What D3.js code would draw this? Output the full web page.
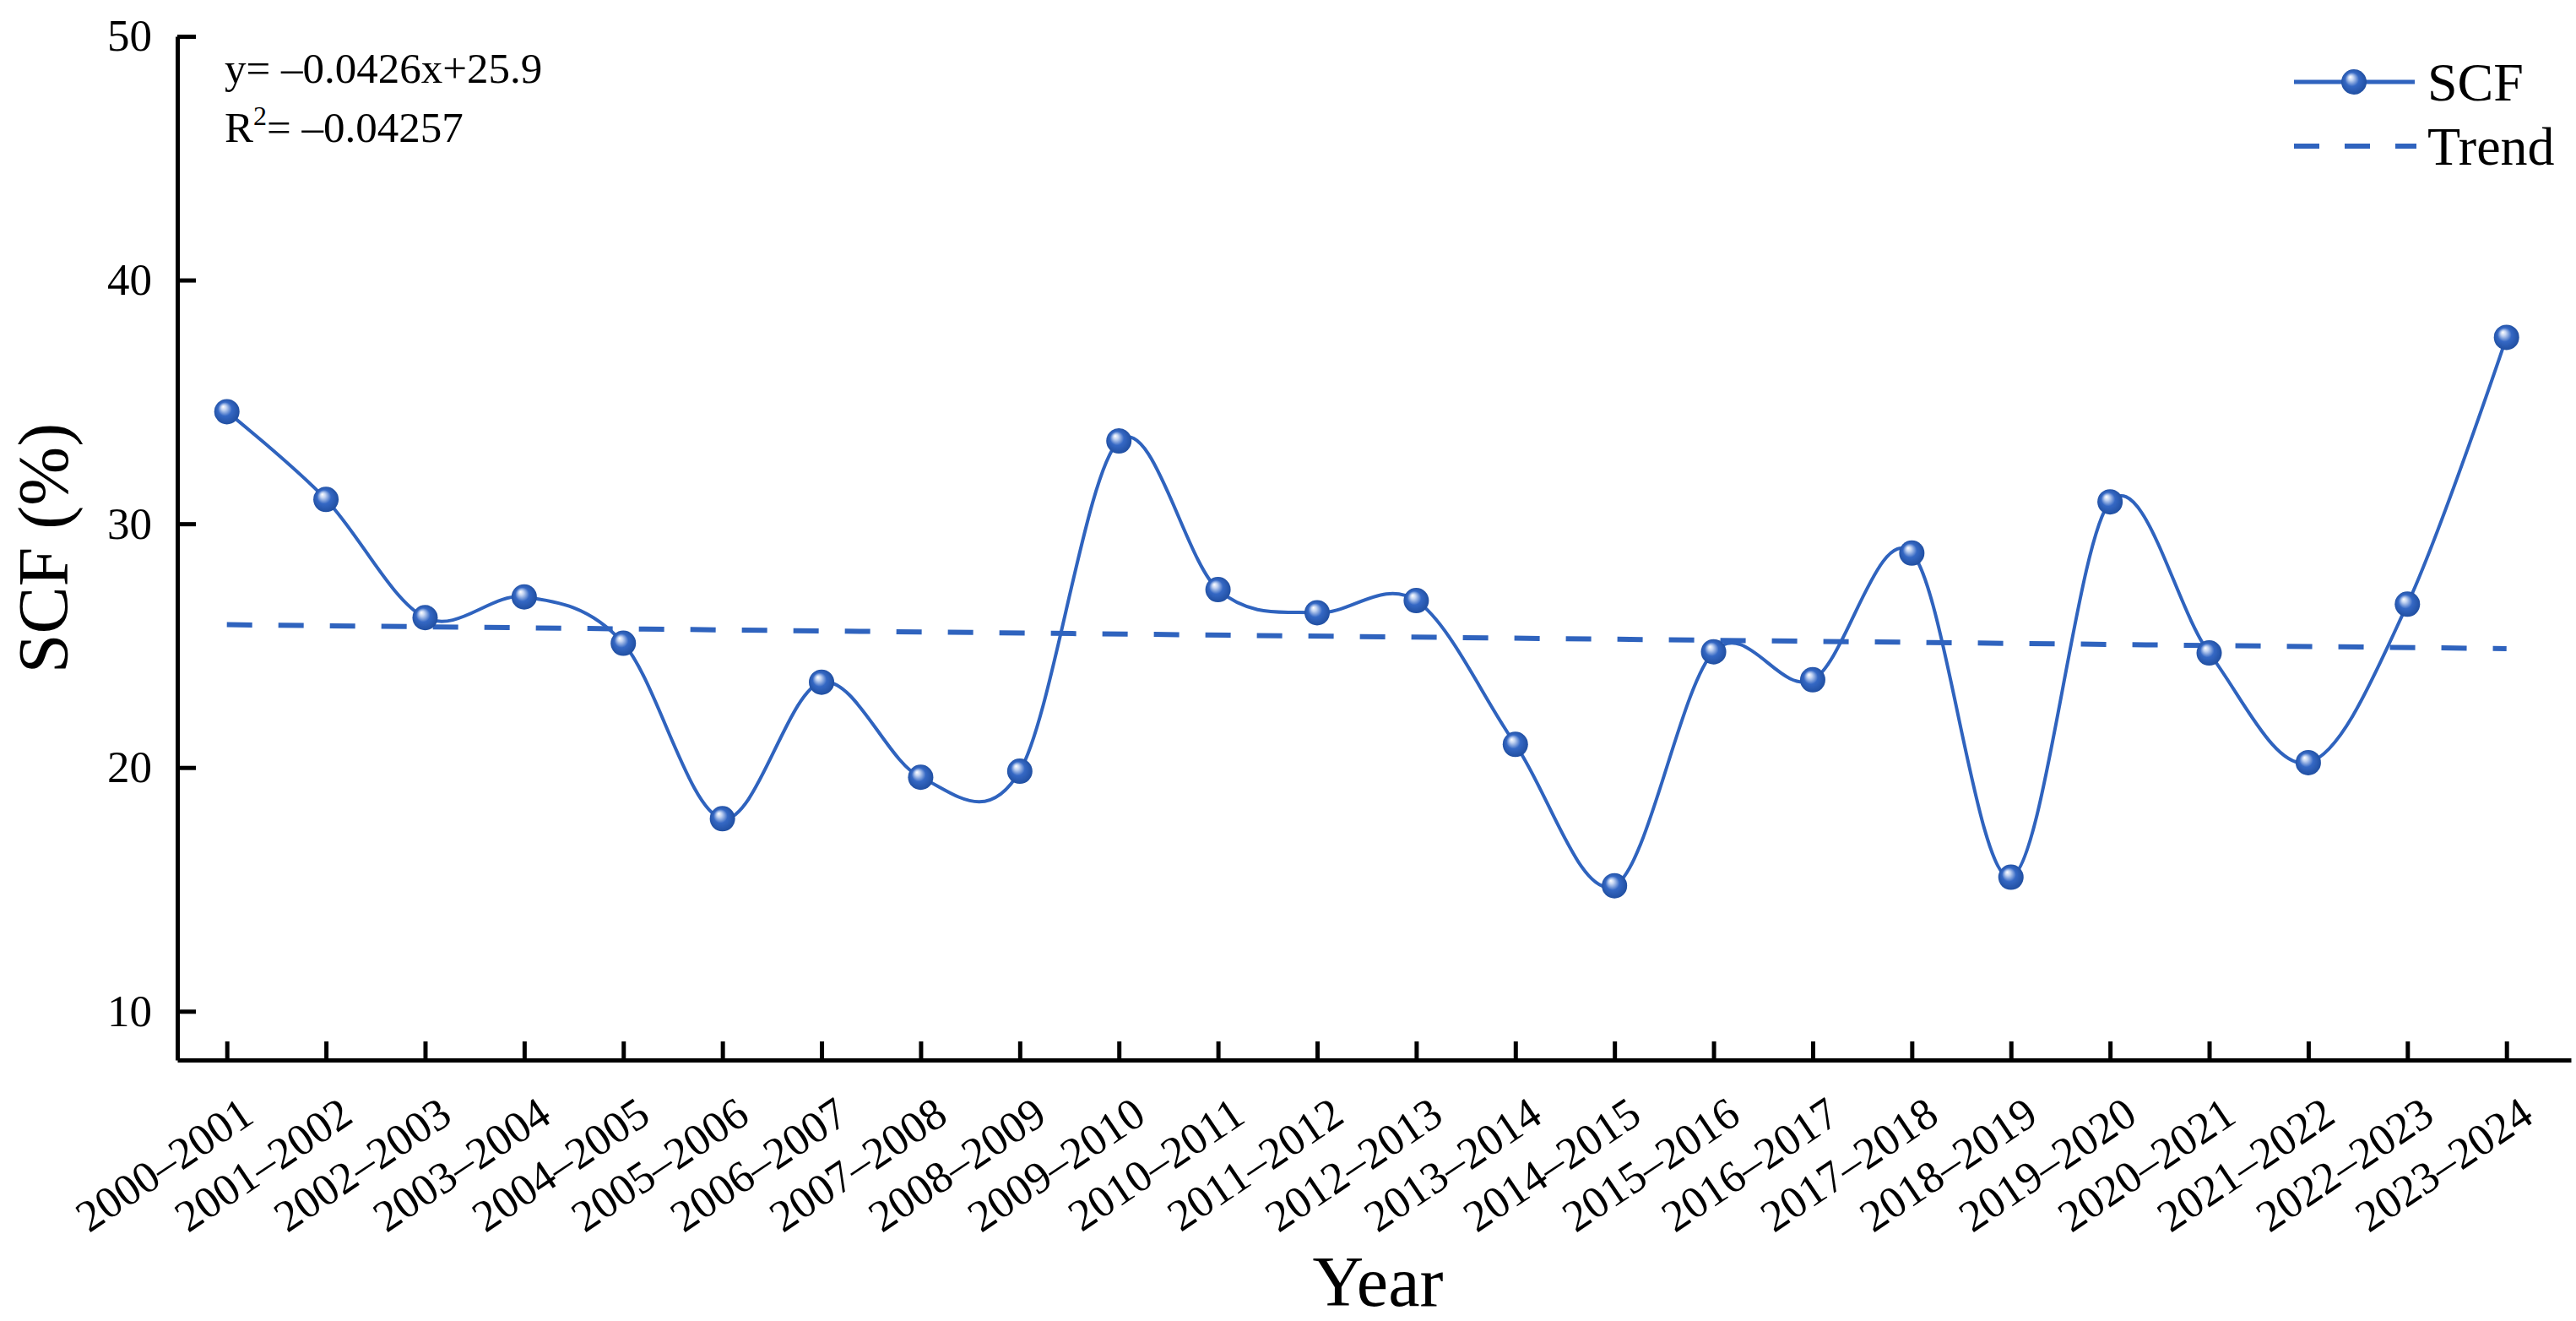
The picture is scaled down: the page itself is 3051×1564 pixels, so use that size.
<!DOCTYPE html>
<html>
<head>
<meta charset="utf-8">
<script src="https://d3js.org/d3.v7.min.js"></script>
<style>
	body { margin: 0; background: #fff; }
	text { font-family: "Liberation Serif", "Times New Roman", serif; fill: #000; }
</style>
</head>
<body>
<div id="chart-area"></div>
<script>
// Data
var seasons = ["2000–2001", "2001–2002", "2002–2003", "2003–2004", "2004–2005", "2005–2006",
	"2006–2007", "2007–2008", "2008–2009", "2009–2010", "2010–2011", "2011–2012",
	"2012–2013", "2013–2014", "2014–2015", "2015–2016", "2016–2017", "2017–2018",
	"2018–2019", "2019–2020", "2020–2021", "2021–2022", "2022–2023", "2023–2024"];
var scf = [34.6, 31.0, 26.15, 27.0, 25.1, 17.9, 23.5, 19.6, 19.85, 33.4, 27.3, 26.35,
	26.85, 20.95, 15.15, 24.75, 23.6, 28.8, 15.5, 30.9, 24.7, 20.2, 26.7, 37.65];
// trend line end points (first and last season)
var trendIdx = [0, 23];
var trendValues = [25.86, 24.88];
var yTicks = [10, 20, 30, 40, 50];
var equationText = "y= –0.0426x+25.9";
var r2Text = "–0.04257";

var W = 3051, H = 1564;
var blue = "#2f63be";

var svg = d3.select("#chart-area").append("svg")
	.attr("width", W)
	.attr("height", H);

svg.append("rect").attr("width", W).attr("height", H).attr("fill", "#fff");

// sphere marker gradient
var defs = svg.append("defs");
var grad = defs.append("radialGradient")
	.attr("id", "ball")
	.attr("cx", "50%").attr("cy", "50%").attr("r", "55%")
	.attr("fx", "35%").attr("fy", "30%");
grad.append("stop").attr("offset", "0%").attr("stop-color", "#ffffff");
grad.append("stop").attr("offset", "18%").attr("stop-color", "#c5d5f2");
grad.append("stop").attr("offset", "50%").attr("stop-color", "#3568c4");
grad.append("stop").attr("offset", "100%").attr("stop-color", "#1d4b9c");

// Scales
var x = d3.scaleLinear()
	.domain([-0.5, 23.65])
	.range([210, 3045]);

var y = d3.scaleLinear()
	.domain([8, 50])
	.range([1255, 43]);

// Axes
var xAxisCall = d3.axisBottom(x)
	.tickValues(d3.range(seasons.length))
	.tickFormat((d) => seasons[d])
	.tickSizeInner(-22)
	.tickSizeOuter(0);

var yAxisCall = d3.axisLeft(y)
	.tickValues(yTicks)
	.tickSizeInner(-22)
	.tickSizeOuter(0)
	.tickPadding(30);

var xAxisGroup = svg.append("g")
	.attr("transform", "translate(0," + y(8) + ")")
	.call(xAxisCall);

var yAxisGroup = svg.append("g")
	.attr("transform", "translate(" + x(-0.5) + ",0)")
	.call(yAxisCall);

[xAxisGroup, yAxisGroup].forEach((g) => {
	g.select(".domain").attr("stroke", "#000").attr("stroke-width", 5);
	g.selectAll(".tick line").attr("stroke", "#000").attr("stroke-width", 5);
	g.selectAll("text").style("font-family", "Liberation Serif").attr("fill", "#000");
});

yAxisGroup.selectAll("text").style("font-size", "53px");

xAxisGroup.selectAll("text")
	.style("font-size", "53px")
	.attr("x", null).attr("y", null).attr("dy", null)
	.attr("text-anchor", "end")
	.attr("transform", "translate(34,72) rotate(-34)");

// axis labels
svg.append("text")
	.attr("transform", "translate(80," + y(29) + ") rotate(-90)")
	.attr("text-anchor", "middle")
	.style("font-size", "84px")
	.text("SCF (%)");

svg.append("text")
	.attr("x", 1632)
	.attr("y", 1546)
	.attr("text-anchor", "middle")
	.style("font-size", "84px")
	.text("Year");

// trend line
svg.append("path")
	.datum(trendIdx.map((d, i) => [d, trendValues[i]]))
	.attr("fill", "none")
	.attr("stroke", blue)
	.attr("stroke-width", 6)
	.attr("stroke-dasharray", "30,31")
	.attr("d", d3.line().x((d) => x(d[0])).y((d) => y(d[1])));

// SCF spline
var line = d3.line()
	.x((d, i) => x(i))
	.y((d) => y(d))
	.curve(d3.curveCardinal.tension(0));

svg.append("path")
	.datum(scf)
	.attr("fill", "none")
	.attr("stroke", blue)
	.attr("stroke-width", 4)
	.attr("d", line);

svg.selectAll("circle.pt")
	.data(scf)
	.enter().append("circle")
	.attr("class", "pt")
	.attr("cx", (d, i) => x(i))
	.attr("cy", (d) => y(d))
	.attr("r", 15)
	.attr("fill", "url(#ball)");

// equation
var eq = svg.append("g").attr("transform", "translate(266,0)");
eq.append("text").attr("y", 98).style("font-size", "51px")
	.text(equationText);
var r2 = eq.append("text").attr("y", 168).style("font-size", "51px");
r2.append("tspan").text("R");
r2.append("tspan").attr("dy", -20).style("font-size", "32px").text("2");
r2.append("tspan").attr("dy", 20).text("= " + r2Text);

// legend
var legend = svg.append("g").attr("transform", "translate(2717,0)");
var rowSCF = legend.append("g").attr("transform", "translate(0,97)");
rowSCF.append("line").attr("x1", 0).attr("x2", 143)
	.attr("stroke", blue).attr("stroke-width", 5);
rowSCF.append("circle").attr("cx", 71).attr("r", 15).attr("fill", "url(#ball)");
rowSCF.append("text").attr("x", 158).attr("y", 22).style("font-size", "64px").text("SCF");

var rowTrend = legend.append("g").attr("transform", "translate(0,173)");
rowTrend.append("line").attr("x1", 0).attr("x2", 145)
	.attr("stroke", blue).attr("stroke-width", 6)
	.attr("stroke-dasharray", "30,30");
rowTrend.append("text").attr("x", 158).attr("y", 22).style("font-size", "64px").text("Trend");
</script>
</body>
</html>
